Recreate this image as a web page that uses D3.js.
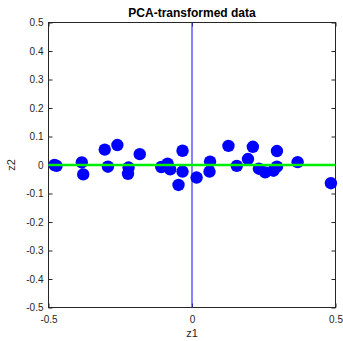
<!DOCTYPE html>
<html><head><meta charset="utf-8">
<script src="https://cdn.jsdelivr.net/npm/d3@7"></script>
<style>body{margin:0;background:#fff}svg{display:block}text{font-family:"Liberation Sans",Arial,sans-serif}</style>
</head><body><svg id="c" width="343" height="341"></svg>
<script>
const z1 = [-0.479,-0.472,-0.384,-0.379,-0.304,-0.293,-0.260,-0.221,-0.223,-0.182,-0.107,-0.085,-0.076,-0.047,-0.033,-0.033,0.016,0.063,0.061,0.127,0.156,0.195,0.212,0.233,0.255,0.284,0.296,0.296,0.368,0.484];
const z2 = [0.000,-0.003,0.009,-0.033,0.054,-0.006,0.070,-0.009,-0.031,0.038,-0.007,0.005,-0.015,-0.070,-0.023,0.050,-0.044,0.012,-0.023,0.067,-0.003,0.021,0.064,-0.013,-0.026,-0.020,-0.006,0.049,0.010,-0.064];
const xTicks = [-0.5,0,0.5];
const yTicks = [-0.5,-0.4,-0.3,-0.2,-0.1,0,0.1,0.2,0.3,0.4,0.5];
const title = "PCA-transformed data";

const svg = d3.select("#c");
const L=48.5,R=335.5,T=22.5,B=307.5;
const x = d3.scaleLinear().domain([-0.5,0.5]).range([L,R]);
const y = d3.scaleLinear().domain([-0.5,0.5]).range([B,T]);
const axc="#262626";
svg.append("rect").attr("x",L).attr("y",T).attr("width",R-L).attr("height",B-T).attr("fill","none").attr("stroke",axc).attr("stroke-width",1);
const fmt = d=> d===0?"0":String(+d.toFixed(1));
svg.append("g").attr("transform",`translate(0,${B})`).call(d3.axisBottom(x).tickValues(xTicks).tickSize(-4).tickFormat(fmt)).call(g=>{g.select(".domain").remove();g.selectAll("line").attr("stroke",axc);g.selectAll("text").attr("dy","1.25em").attr("font-size",10).attr("fill","#262626");});
svg.append("g").attr("transform",`translate(0,${T})`).call(d3.axisTop(x).tickValues(xTicks).tickSize(-4).tickFormat("")).call(g=>{g.select(".domain").remove();g.selectAll("line").attr("stroke",axc);});
svg.append("g").attr("transform",`translate(${L},0)`).call(d3.axisLeft(y).tickValues(yTicks).tickSize(-4).tickFormat(fmt)).call(g=>{g.select(".domain").remove();g.selectAll("line").attr("stroke",axc);g.selectAll("text").attr("x",-5).attr("font-size",10).attr("fill","#262626");});
svg.append("g").attr("transform",`translate(${R},0)`).call(d3.axisRight(y).tickValues(yTicks).tickSize(-4).tickFormat("")).call(g=>{g.select(".domain").remove();g.selectAll("line").attr("stroke",axc);});
svg.append("line").attr("x1",x(0)).attr("x2",x(0)).attr("y1",T).attr("y2",B).attr("stroke","#3333ff").attr("stroke-width",1.2);
svg.append("g").selectAll("circle").data(z1.map((v,i)=>[v,z2[i]])).join("circle").attr("cx",d=>x(d[0])).attr("cy",d=>y(d[1])).attr("r",6.2).attr("fill","#0000ff");
svg.append("line").attr("x1",x(-0.5)).attr("x2",x(0.5)).attr("y1",y(0)).attr("y2",y(0)).attr("stroke","#00ee00").attr("stroke-width",2.5);
svg.append("text").attr("x",(L+R)/2).attr("y",16.5).attr("text-anchor","middle").attr("font-size",12).attr("font-weight","bold").attr("fill","#000").text(title);
svg.append("text").attr("x",(L+R)/2).attr("y",337).attr("text-anchor","middle").attr("font-size",11).attr("fill","#262626").text("z1");
svg.append("text").attr("transform",`translate(15,${(T+B)/2}) rotate(-90)`).attr("text-anchor","middle").attr("font-size",11).attr("fill","#262626").text("z2");
</script></body></html>
